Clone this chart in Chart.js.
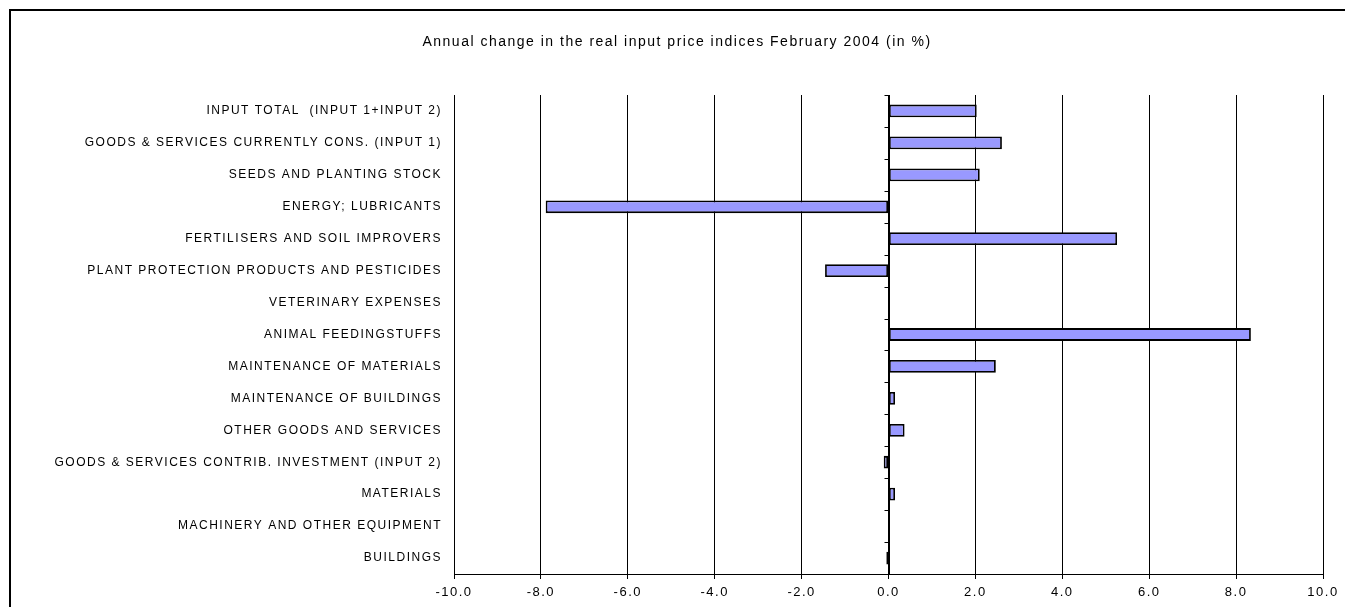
<!DOCTYPE html>
<html>
<head>
<meta charset="utf-8">
<script src="https://cdn.jsdelivr.net/npm/chart.js@4/dist/chart.umd.min.js"></script>
<style>
html,body{margin:0;padding:0;background:#fff;}
#wrap{position:relative;width:1345px;height:607px;}
</style>
</head>
<body>
<div id="wrap"><canvas id="c" width="1345" height="607"></canvas></div>
<script>
const titleText = "Annual change in the real input price indices February 2004 (in %)";
const categories = [
  "INPUT TOTAL  (INPUT 1+INPUT 2)",
  "GOODS & SERVICES CURRENTLY CONS. (INPUT 1)",
  "SEEDS AND PLANTING STOCK",
  "ENERGY; LUBRICANTS",
  "FERTILISERS AND SOIL IMPROVERS",
  "PLANT PROTECTION PRODUCTS AND PESTICIDES",
  "VETERINARY EXPENSES",
  "ANIMAL FEEDINGSTUFFS",
  "MAINTENANCE OF MATERIALS",
  "MAINTENANCE OF BUILDINGS",
  "OTHER GOODS AND SERVICES",
  "GOODS & SERVICES CONTRIB. INVESTMENT (INPUT 2)",
  "MATERIALS",
  "MACHINERY AND OTHER EQUIPMENT",
  "BUILDINGS"
];
const values = [2.03, 2.61, 2.10, -7.89, 5.26, -1.46, 0, 8.34, 2.47, 0.15, 0.37, -0.11, 0.15, 0, -0.05];
const xMin = -10, xMax = 10, xStep = 2;

const decor = {
  id: 'decor',
  beforeDraw(chart) {
    const ctx = chart.ctx;
    ctx.save();
    ctx.fillStyle = '#fff';
    ctx.fillRect(0, 0, chart.width, chart.height);
    ctx.restore();
    ctx.letterSpacing = '1.5px';
  },
  afterDatasetsDraw(chart) {
    const ctx = chart.ctx, x = chart.scales.x, y = chart.scales.y;
    const x0 = Math.round(x.getPixelForValue(0)) + 0.5;
    ctx.save();
    ctx.strokeStyle = '#000';
    ctx.lineWidth = 1;
    ctx.beginPath();
    ctx.moveTo(x0, y.top);
    ctx.lineTo(x0, y.bottom);
    const n = categories.length;
    for (let i = 0; i <= n; i++) {
      const py = Math.round(y.top + i * (y.bottom - y.top) / n) + 0.5;
      ctx.moveTo(x0 - 5, py);
      ctx.lineTo(x0, py);
    }
    ctx.stroke();
    // outer border
    ctx.lineWidth = 2;
    ctx.strokeStyle = '#000';
    ctx.beginPath();
    ctx.moveTo(10, chart.height + 5);
    ctx.lineTo(10, 10);
    ctx.lineTo(chart.width + 5, 10);
    ctx.stroke();
    ctx.restore();
  }
};

new Chart(document.getElementById('c'), {
  type: 'bar',
  data: {
    labels: categories,
    datasets: [{
      data: values,
      backgroundColor: '#9999ff',
      borderColor: '#000',
      borderWidth: 1.8,
      borderSkipped: false,
      barPercentage: 0.4,
      categoryPercentage: 1.0
    }]
  },
  options: {
    indexAxis: 'y',
    responsive: false,
    animation: false,
    devicePixelRatio: 1,
    layout: { padding: { top: 0, left: 31, right: 22, bottom: 0 } },
    plugins: {
      legend: { display: false },
      tooltip: { enabled: false },
      title: {
        display: true,
        text: titleText,
        color: '#000',
        font: { family: 'Liberation Sans, Arial, sans-serif', size: 14, weight: 'normal' },
        padding: { top: 33.6, bottom: 44.6 }
      }
    },
    scales: {
      x: {
        type: 'linear',
        min: xMin, max: xMax,
        ticks: {
          stepSize: xStep,
          color: '#000',
          font: { family: 'Liberation Sans, Arial, sans-serif', size: 13 },
          padding: 6,
          callback: v => Number(v).toFixed(1)
        },
        grid: { color: '#000', lineWidth: 1, tickLength: 5, drawTicks: true },
        border: { display: true, color: '#000', width: 1 },
        afterFit(s) { s.height = 607 - 574; }
      },
      y: {
        type: 'category',
        ticks: {
          color: '#000',
          font: { family: 'Liberation Sans, Arial, sans-serif', size: 12 },
          padding: 12,
          autoSkip: false
        },
        grid: { display: false, drawTicks: false },
        border: { display: true, color: '#000', width: 1 },
        afterFit(s) { s.width = 454 - 31; }
      }
    }
  },
  plugins: [decor]
});
</script>
</body>
</html>
